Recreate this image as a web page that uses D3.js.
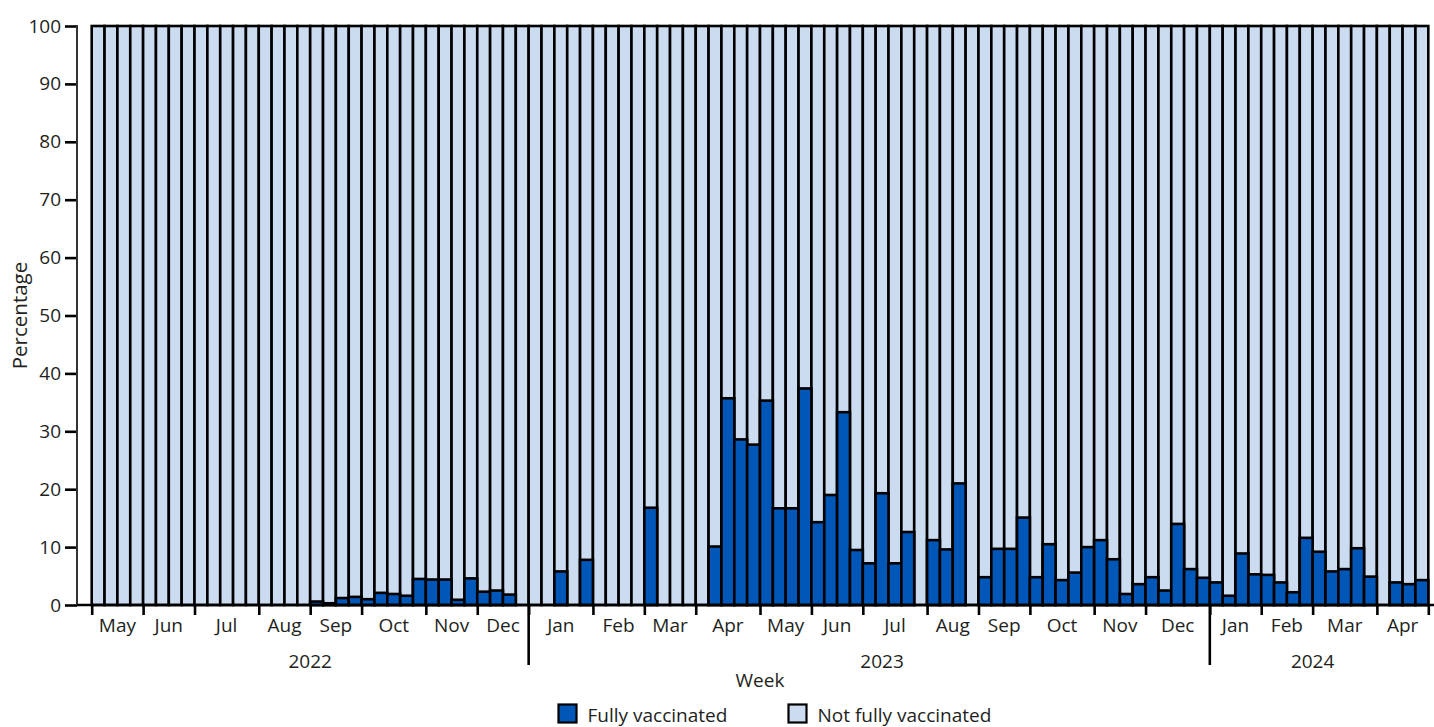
<!DOCTYPE html>
<html>
<head>
<meta charset="utf-8">
<script src="https://cdn.jsdelivr.net/npm/d3@7"></script>
<style>
  html, body { margin: 0; padding: 0; background: #fff; }
  svg { display: block; font-family: "Open Sans", Lato, sans-serif; }
  text { fill: #231f20; }
</style>
</head>
<body>
<svg id="chart" width="1434" height="727"></svg>
<script>
// Weekly share (%) of fully vaccinated cases, first week of May 2022 to end of April 2024
const fullyVaccinated = [
  // 2022: May–Dec
  0, 0, 0, 0,  0, 0, 0, 0,  0, 0, 0, 0, 0,  0, 0, 0, 0,
  0.6, 0.3, 1.2, 1.4,  1.0, 2.1, 1.9, 1.6, 4.5,  4.4, 4.4, 0.9, 4.6,  2.3, 2.5, 1.8, 0,
  // 2023: Jan–Dec
  0, 0, 5.8, 0, 7.8,  0, 0, 0, 0,  16.8, 0, 0, 0,  0, 10.1, 35.7, 28.6, 27.7,
  35.3, 16.7, 16.7, 37.4,  14.3, 19.0, 33.3, 9.5,  7.2, 19.3, 7.2, 12.6, 0,
  11.2, 9.6, 21.0, 0,  4.8, 9.7, 9.7, 15.1,  4.8, 10.5, 4.3, 5.6, 10.0,
  11.2, 7.9, 1.9, 3.6,  4.8, 2.5, 14.0, 6.2, 4.7,
  // 2024: Jan–Apr
  3.9, 1.6, 8.9, 5.3,  5.2, 3.9, 2.2, 11.6,  9.2, 5.8, 6.2, 9.8, 4.9,  0, 3.9, 3.6, 4.3
];

const monthLabels = ["May", "Jun", "Jul", "Aug", "Sep", "Oct", "Nov", "Dec",
  "Jan", "Feb", "Mar", "Apr", "May", "Jun", "Jul", "Aug", "Sep", "Oct", "Nov", "Dec",
  "Jan", "Feb", "Mar", "Apr"];
const monthWeeks = [4, 4, 5, 4, 4, 5, 4, 4,
  5, 4, 4, 5, 4, 4, 5, 4, 4, 5, 4, 5,
  4, 4, 5, 4];

const yearLabels = ["2022", "2023", "2024"];
const yearStartWeek = [0, 34, 87];
const yearLabelWeek = [17, 61.5, 95];

const yTicks = [0, 10, 20, 30, 40, 50, 60, 70, 80, 90, 100];
const seriesNames = ["Fully vaccinated", "Not fully vaccinated"];
const seriesColors = ["#0057b8", "#cbdbf0"];

const svg = d3.select("#chart");
const axisLeftX = 77, plotLeft = 91.7, plotRight = 1428.3, plotTop = 26, plotBottom = 605;
const fontSize = 19;

const weeks = d3.range(fullyVaccinated.length);
const x = d3.scaleBand().domain(weeks).range([plotLeft, plotRight]).padding(0);
const xw = d3.scaleLinear().domain([0, weeks.length]).range([plotLeft, plotRight]);
const y = d3.scaleLinear().domain([0, 100]).range([plotBottom, plotTop]);

// Bars: light full-height column, then the vaccinated share on top of it
const g = svg.append("g");
g.selectAll("rect.rest").data(weeks).join("rect")
  .attr("class", "rest")
  .attr("x", d => x(d))
  .attr("width", x.bandwidth())
  .attr("y", y(100))
  .attr("height", y(0) - y(100))
  .attr("fill", seriesColors[1])
  .attr("stroke", "#000")
  .attr("stroke-width", 2.6);

g.selectAll("rect.vax").data(weeks.filter(i => fullyVaccinated[i] > 0)).join("rect")
  .attr("class", "vax")
  .attr("x", d => x(d))
  .attr("width", x.bandwidth())
  .attr("y", d => y(fullyVaccinated[d]))
  .attr("height", d => y(0) - y(fullyVaccinated[d]))
  .attr("fill", seriesColors[0])
  .attr("stroke", "#000")
  .attr("stroke-width", 2.6);

// Y axis
const yAxis = svg.append("g")
  .attr("transform", `translate(${axisLeftX},0)`)
  .call(d3.axisLeft(y).tickValues(yTicks).tickSize(12).tickPadding(4));
yAxis.select(".domain").remove();
yAxis.selectAll(".tick line").attr("stroke", "#000").attr("stroke-width", 2.6);
yAxis.selectAll(".tick text").attr("font-size", fontSize).attr("fill", "#231f20")
  .attr("font-family", "'Open Sans', Lato, sans-serif");
svg.append("line")
  .attr("x1", axisLeftX).attr("x2", axisLeftX).attr("y1", plotTop - 1).attr("y2", plotBottom)
  .attr("stroke", "#333").attr("stroke-width", 2);

// X axis: month boundaries as ticks
const boundaries = [0];
monthWeeks.forEach(w => boundaries.push(boundaries[boundaries.length - 1] + w));
const xAxis = svg.append("g")
  .attr("transform", `translate(0,${plotBottom})`)
  .call(d3.axisBottom(xw).tickValues(boundaries).tickFormat("").tickSize(10));
xAxis.select(".domain").remove();
xAxis.selectAll(".tick line").attr("stroke", "#000").attr("stroke-width", 2.6);
svg.append("line")
  .attr("x1", axisLeftX).attr("x2", 1434).attr("y1", plotBottom).attr("y2", plotBottom)
  .attr("stroke", "#000").attr("stroke-width", 2.6);

// Year separators
svg.selectAll("line.year").data(yearStartWeek.slice(1)).join("line")
  .attr("class", "year")
  .attr("x1", d => xw(d)).attr("x2", d => xw(d))
  .attr("y1", plotBottom).attr("y2", 665)
  .attr("stroke", "#000").attr("stroke-width", 2.6);

// Month labels
svg.selectAll("text.month").data(monthLabels).join("text")
  .attr("class", "month")
  .attr("x", (d, i) => xw(boundaries[i] + monthWeeks[i] / 2))
  .attr("y", 632)
  .attr("text-anchor", "middle")
  .attr("font-size", fontSize)
  .text(d => d);

// Year labels
svg.selectAll("text.yr").data(yearLabels).join("text")
  .attr("class", "yr")
  .attr("x", (d, i) => xw(yearLabelWeek[i]))
  .attr("y", 668)
  .attr("text-anchor", "middle")
  .attr("font-size", fontSize)
  .text(d => d);

// Axis titles
svg.append("text")
  .attr("x", (plotLeft + plotRight) / 2).attr("y", 687)
  .attr("text-anchor", "middle").attr("font-size", fontSize)
  .text("Week");
svg.append("text")
  .attr("transform", `translate(27,${(plotTop + plotBottom) / 2}) rotate(-90)`)
  .attr("text-anchor", "middle").attr("font-size", 20.5)
  .text("Percentage");

// Legend
const legendX = [558.5, 788.5];
const legend = svg.selectAll("g.legend").data(seriesNames).join("g")
  .attr("class", "legend")
  .attr("transform", (d, i) => `translate(${legendX[i]},704.5)`);
legend.append("rect")
  .attr("width", 18).attr("height", 18)
  .attr("fill", (d, i) => seriesColors[i])
  .attr("stroke", "#000").attr("stroke-width", 2.2);
legend.append("text")
  .attr("x", 29).attr("y", 17)
  .attr("font-size", fontSize)
  .text(d => d);
</script>
</body>
</html>
